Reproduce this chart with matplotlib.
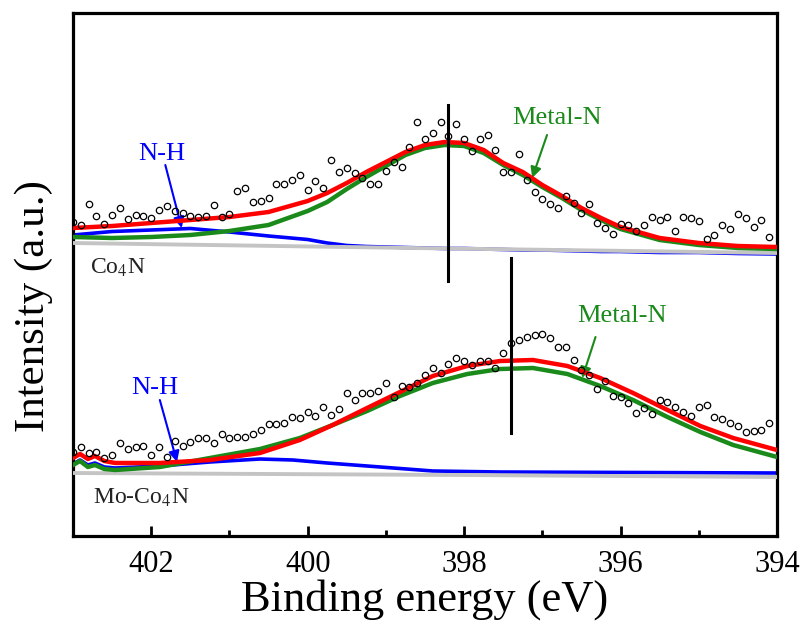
import matplotlib
matplotlib.use("Agg")
import matplotlib.pyplot as plt
import numpy as np

plt.rcParams['font.family'] = ['Liberation Serif', 'DejaVu Serif']
plt.rcParams['mathtext.fontset'] = 'stix'

# ---------------- data (intensity in arbitrary units) ----------------
# measured points: binding energy grid (eV)
scatter_energy = [403.0, 402.9, 402.8, 402.7, 402.6, 402.5, 402.4, 402.3, 402.2, 402.1,
                  402.0, 401.9, 401.8, 401.7, 401.6, 401.5, 401.4, 401.3, 401.2, 401.1,
                  401.0, 400.9, 400.8, 400.7, 400.6, 400.5, 400.4, 400.3, 400.2, 400.1,
                  400.0, 399.9, 399.8, 399.7, 399.6, 399.5, 399.4, 399.3, 399.2, 399.1,
                  399.0, 398.9, 398.8, 398.7, 398.6, 398.5, 398.4, 398.3, 398.2, 398.1,
                  398.0, 397.9, 397.8, 397.7, 397.6, 397.5, 397.4, 397.3, 397.2, 397.1,
                  397.0, 396.9, 396.8, 396.7, 396.6, 396.5, 396.4, 396.3, 396.2, 396.1,
                  396.0, 395.9, 395.8, 395.7, 395.6, 395.5, 395.4, 395.3, 395.2, 395.1,
                  395.0, 394.9, 394.8, 394.7, 394.6, 394.5, 394.4, 394.3, 394.2, 394.1]

co4n_raw = [314, 311, 332, 320, 312, 321, 328, 317, 321, 320,
            318, 326, 330, 325, 323, 320, 319, 320, 331, 319,
            322, 345, 348, 334, 335, 338, 352, 352, 356, 361,
            346, 355, 348, 376, 364, 368, 363, 358, 352, 352,
            365, 374, 369, 389, 414, 397, 403, 414, 400, 412,
            397, 385, 397, 401, 386, 364, 364, 382, 356, 344,
            337, 332, 328, 340, 333, 323, 332, 313, 308, 302,
            312, 311, 305, 311, 319, 316, 319, 305, 319, 318,
            315, 297, 301, 311, 307, 322, 318, 309, 316, 299]

moco4n_raw = [84, 89, 83, 84, 78, 81, 93, 87, 89, 90,
              81, 89, 79, 95, 90, 94, 98, 98, 93, 102,
              98, 99, 99, 102, 106, 112, 112, 113, 119, 118,
              124, 120, 129, 121, 127, 143, 136, 143, 143, 145,
              153, 139, 150, 149, 153, 161, 168, 163, 172, 178,
              175, 171, 175, 175, 168, 183, 193, 196, 199, 201,
              202, 198, 189, 189, 176, 166, 161, 147, 155, 140,
              139, 133, 123, 128, 122, 136, 134, 129, 124, 120,
              129, 131, 119, 117, 113, 110, 104, 105, 106, 113]

# Co4N fitted components
co4n_fit_energy = [403.0, 402.5, 402.0, 401.5, 401.0, 400.5, 400.0, 399.75, 399.5, 399.25,
                   399.0, 398.75, 398.5, 398.25, 398.0, 397.75, 397.5, 397.25, 397.0, 396.75,
                   396.5, 396.25, 396.0, 395.5, 395.0, 394.5, 394.0]
co4n_envelope = [308, 310, 313, 316, 319, 324, 335, 343, 353, 364,
                 374, 384, 391, 394, 393, 386, 373, 364, 351, 340,
                 328, 318, 309, 298, 293, 290, 289]
co4n_metal_n = [299, 298, 299, 301, 305, 311, 325, 334, 347, 359,
                370, 381, 388, 391, 390, 383, 371, 361, 349, 338,
                326, 316, 307, 296, 291, 288, 287]
co4n_nh = [301, 304.5, 306, 307.5, 304, 300, 296.5, 293, 290.5, 289.5,
           289, 288.5, 288, 287.5, 287.5, 287, 286.5, 286, 286, 285.5,
           285, 284.5, 284.5, 283.5, 283.5, 282.5, 282]
co4n_bg_energy = [403.0, 398.2, 394.0]
co4n_background = [293, 287.5, 283]
co4n_peak_line_energy = [398.2, 398.2]
co4n_peak_line = [431, 255]

# Mo-Co4N fitted components
mo_fit_energy = [403.0, 402.91, 402.81, 402.72, 402.6, 402.46, 401.89, 401.25, 400.61, 400.1,
                 399.68, 399.24, 398.82, 398.4, 397.96, 397.54, 397.12, 396.68, 396.26, 395.84,
                 395.4, 394.98, 394.56, 394.0]
mo_envelope = [78, 82, 77, 80, 75, 73, 73, 76, 83, 96,
               111, 128, 144, 160, 170, 175, 176, 170, 158, 143,
               126, 110, 98, 86]
mo_metal_n = [71, 75, 69, 71, 67, 66, 69, 78, 87, 98,
              111, 125, 140, 153, 162, 167, 168, 162, 150, 136,
              119, 104, 91, 79]
mo_nh_energy = [403.0, 402.91, 402.81, 402.72, 402.6, 402.46, 401.89, 401.25, 400.61, 400.19,
                399.75, 399.24, 398.4, 397.54, 394.0]
mo_nh = [72, 76, 71, 73, 69, 68, 70, 74, 77, 76,
         73, 70, 65, 64, 63]
mo_bg_energy = [403.0, 398.0, 394.0]
mo_background = [63, 61, 59]
mo_peak_line_energy = [397.4, 397.4]
mo_peak_line = [278, 103]

# ---------------- figure ----------------
fig = plt.figure(figsize=(8.08, 6.26), dpi=100)
ax = fig.add_axes([73/808, 1-536/626, (777-73)/808, (536-13)/626])

RED = '#ff0000'
GREEN = '#1a8a1a'
BLUE = '#0000ff'
GRAY = '#c4c4c4'

lw = 3.2
for E_nh, nh, E_bg, bg, E_fit, mn, env in [
        (co4n_fit_energy, co4n_nh, co4n_bg_energy, co4n_background, co4n_fit_energy, co4n_metal_n, co4n_envelope),
        (mo_nh_energy, mo_nh, mo_bg_energy, mo_background, mo_fit_energy, mo_metal_n, mo_envelope)]:
    ax.plot(E_nh, nh, color=BLUE, lw=2.6, zorder=2, solid_joinstyle='round')
    ax.plot(E_bg, bg, color=GRAY, lw=2.8, zorder=3)
    ax.plot(E_fit, mn, color=GREEN, lw=lw, zorder=4, solid_joinstyle='round')
    ax.plot(E_fit, env, color=RED, lw=lw, zorder=5, solid_joinstyle='round')

ax.plot(scatter_energy, co4n_raw, linestyle='none', marker='o', ms=4.6,
        mfc='none', mec='black', mew=0.9, zorder=6)
ax.plot(scatter_energy, moco4n_raw, linestyle='none', marker='o', ms=4.6,
        mfc='none', mec='black', mew=0.9, zorder=6)

ax.plot(co4n_peak_line_energy, co4n_peak_line, color='black', lw=2.2, zorder=7)
ax.plot(mo_peak_line_energy, mo_peak_line, color='black', lw=2.2, zorder=7)

ax.set_xlim(403.0, 394.0)
ax.set_ylim(0, 523)

# sample labels
ax.text(402.78, 268.5, 'Co$_4$N', fontsize=17, color='#222222', ha='left', va='center')
ax.text(402.74, 38, 'Mo-Co$_4$N', fontsize=17, color='#222222', ha='left', va='center')

# annotations
arrow_kw_b = dict(arrowstyle='-|>', color=BLUE, lw=1.5, mutation_scale=16, shrinkA=0, shrinkB=0)
arrow_kw_g = dict(arrowstyle='-|>', color=GREEN, lw=1.5, mutation_scale=16, shrinkA=0, shrinkB=0)

ax.text(401.87, 382, 'N-H', fontsize=19, color=BLUE, ha='center', va='center')
ax.annotate('', xy=(401.61, 308), xytext=(401.82, 371), arrowprops=arrow_kw_b)

ax.text(396.81, 418, 'Metal-N', fontsize=19, color=GREEN, ha='center', va='center')
ax.annotate('', xy=(397.13, 358), xytext=(396.94, 401), arrowprops=arrow_kw_g)

ax.text(401.95, 148, 'N-H', fontsize=19, color=BLUE, ha='center', va='center')
ax.annotate('', xy=(401.67, 74), xytext=(401.89, 136), arrowprops=arrow_kw_b)

ax.text(395.98, 220, 'Metal-N', fontsize=19, color=GREEN, ha='center', va='center')
ax.annotate('', xy=(396.49, 158), xytext=(396.32, 199), arrowprops=arrow_kw_g)

# axes styling
for s in ax.spines.values():
    s.set_linewidth(2.3)
ax.set_xticks([402, 400, 398, 396, 394])
ax.set_xticks([401, 399, 397, 395], minor=True)
ax.tick_params(axis='x', which='major', direction='in', length=7, width=2, labelsize=22, pad=10,
               top=False)
ax.tick_params(axis='x', which='minor', direction='in', length=4, width=2, top=False)
ax.set_yticks([])
ax.set_xlabel('Binding energy (eV)', fontsize=32, labelpad=0)
ax.set_ylabel('Intensity (a.u.)', fontsize=31)
ax.yaxis.set_label_coords(-0.028, 0.44)

fig.savefig('out.png', dpi=100)
